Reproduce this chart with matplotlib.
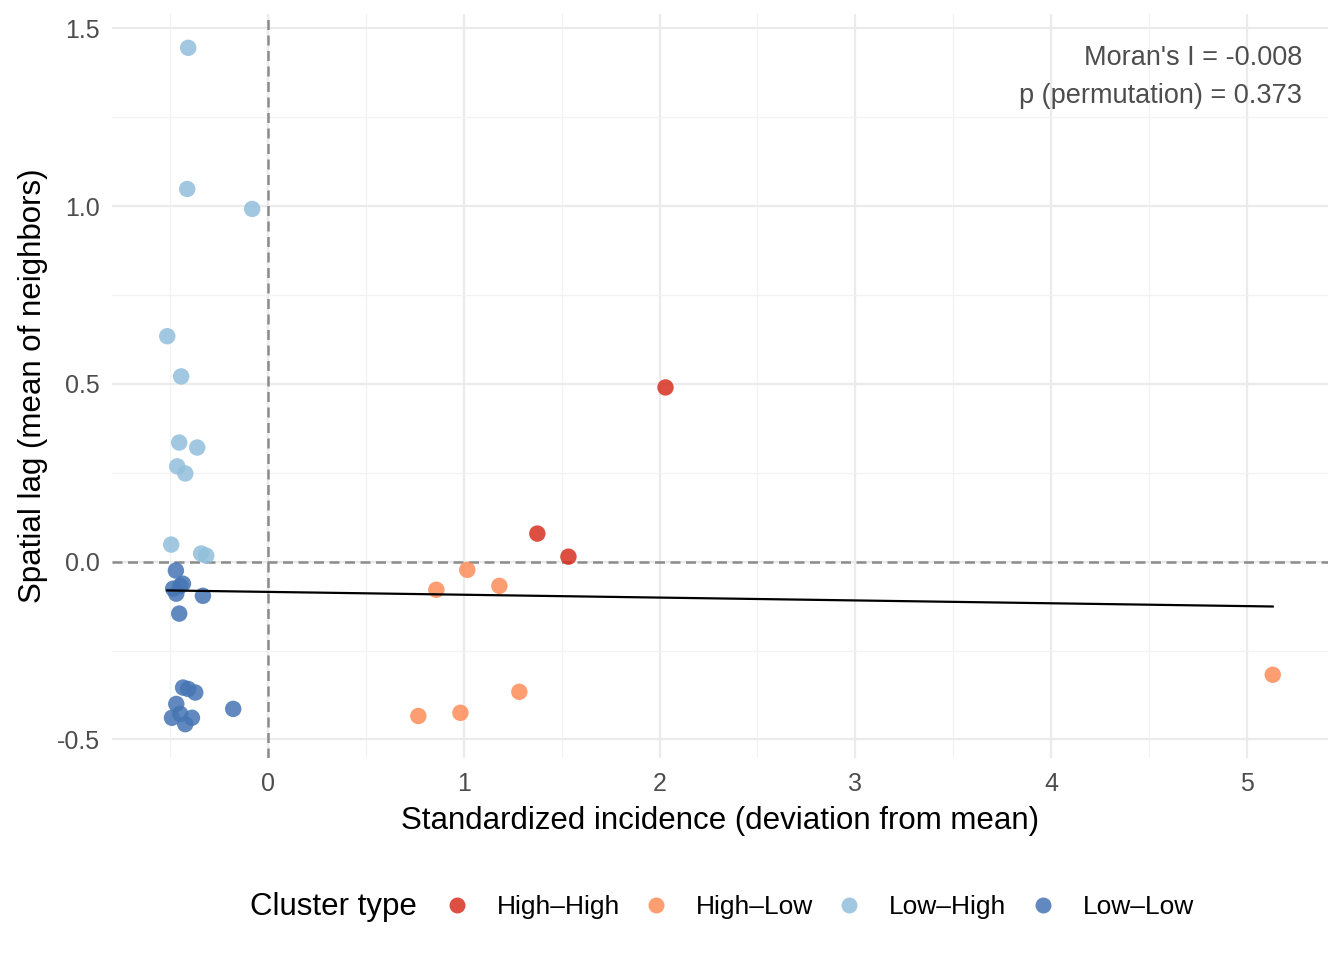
import numpy as np
import matplotlib
matplotlib.use("Agg")
import matplotlib.pyplot as plt
from matplotlib.lines import Line2D

plt.rcParams['font.family'] = ['Liberation Sans', 'DejaVu Sans']

# Data: standardized incidence (x) and spatial lag (y)
hh_x = [2.03, 1.375, 1.534]
hh_y = [0.49, 0.079, 0.014]

hl_x = [0.767, 0.859, 0.982, 1.017, 1.181, 1.283, 5.133]
hl_y = [-0.434, -0.079, -0.425, -0.023, -0.068, -0.366, -0.318]

lh_x = [-0.409, -0.414, -0.082, -0.516, -0.445, -0.455, -0.363, -0.465, -0.424, -0.496, -0.343, -0.317]
lh_y = [1.445, 1.048, 0.992, 0.634, 0.521, 0.335, 0.321, 0.268, 0.248, 0.048, 0.023, 0.017]

ll_x = [-0.472, -0.45, -0.486, -0.47, -0.334, -0.455, -0.436,
        -0.409, -0.373, -0.47, -0.492, -0.45, -0.39, -0.424, -0.179, -0.435]
ll_y = [-0.025, -0.068, -0.076, -0.09, -0.096, -0.146, -0.062,
        -0.358, -0.368, -0.40, -0.439, -0.428, -0.439, -0.457, -0.414, -0.354]

cluster_names = ['High–High', 'High–Low', 'Low–High', 'Low–Low']
cluster_colors = ['#D7301F', '#FC8D59', '#91BFDB', '#4575B4']
moran_i = -0.008        # slope of the Moran scatter line
lag_intercept = -0.085  # intercept of that line
p_perm = 0.373

W, H = 1344, 960
fig = plt.figure(figsize=(W / 100, H / 100), dpi=100)
ax = fig.add_axes([112 / W, 1 - 758 / H, (1328 - 112) / W, (758 - 14) / H])

series = [(hh_x, hh_y), (hl_x, hl_y), (lh_x, lh_y), (ll_x, ll_y)]
for (xs, ys), col in zip(series, cluster_colors):
    ax.scatter(xs, ys, s=140, color=col, alpha=0.85, edgecolors='none', zorder=3)

# reference lines
ax.axhline(0, color='#8c8c8c', lw=1.8, ls=(0, (4, 2.2)), zorder=2)
ax.axvline(0, color='#8c8c8c', lw=1.8, ls=(0, (4, 2.2)), zorder=2)

all_x = np.concatenate([np.array(s[0]) for s in series])
all_y = np.concatenate([np.array(s[1]) for s in series])
fx = np.array([all_x.min(), all_x.max()])
ax.plot(fx, lag_intercept + moran_i * fx, color='black', lw=1.6, zorder=4)

xr = all_x.max() - all_x.min()
yr = all_y.max() - all_y.min()
ax.set_xlim(all_x.min() - 0.05 * xr, all_x.max() + 0.05 * xr)
ax.set_ylim(all_y.min() - 0.05 * yr, all_y.max() + 0.05 * yr)

ax.set_xticks([0, 1, 2, 3, 4, 5])
ax.set_xticks([-0.5, 0.5, 1.5, 2.5, 3.5, 4.5], minor=True)
ax.set_yticks([-0.5, 0.0, 0.5, 1.0, 1.5])
ax.set_yticks([-0.25, 0.25, 0.75, 1.25], minor=True)
ax.set_yticklabels(['-0.5', '0.0', '0.5', '1.0', '1.5'])
ax.grid(which='major', color='#EBEBEB', lw=1.6)
ax.grid(which='minor', color='#F2F2F2', lw=0.9)
ax.set_axisbelow(True)
for sp in ax.spines.values():
    sp.set_visible(False)
ax.tick_params(which='both', length=0, labelsize=18, labelcolor='#4D4D4D')
ax.tick_params(axis='x', pad=10)
ax.tick_params(axis='y', pad=9)

ax.set_xlabel('Standardized incidence (deviation from mean)', fontsize=22.5, labelpad=7)
ax.set_ylabel('Spatial lag (mean of neighbors)', fontsize=22.5, labelpad=6)

ax.text(0.9785, 0.959, f"Moran's I = {moran_i:.3f}\np (permutation) = {p_perm:.3f}",
        transform=ax.transAxes, ha='right', va='top', fontsize=19.5,
        color='#4D4D4D', linespacing=1.62)

# legend at bottom
fig.text(250 / W, 1 - 907 / H, 'Cluster type', fontsize=22.5, va='center', ha='left')
handles = [Line2D([], [], marker='o', ls='none', markersize=11.5, color=c, alpha=0.85,
                  markeredgewidth=0) for c in cluster_colors]
fig.legend(handles, cluster_names, ncol=4, frameon=False, fontsize=19,
           loc='center left', bbox_to_anchor=(424 / W, 1 - 907 / H), borderpad=0,
           handletextpad=0.76, columnspacing=0.62, handlelength=1.5)

fig.savefig('out.png', dpi=100)
